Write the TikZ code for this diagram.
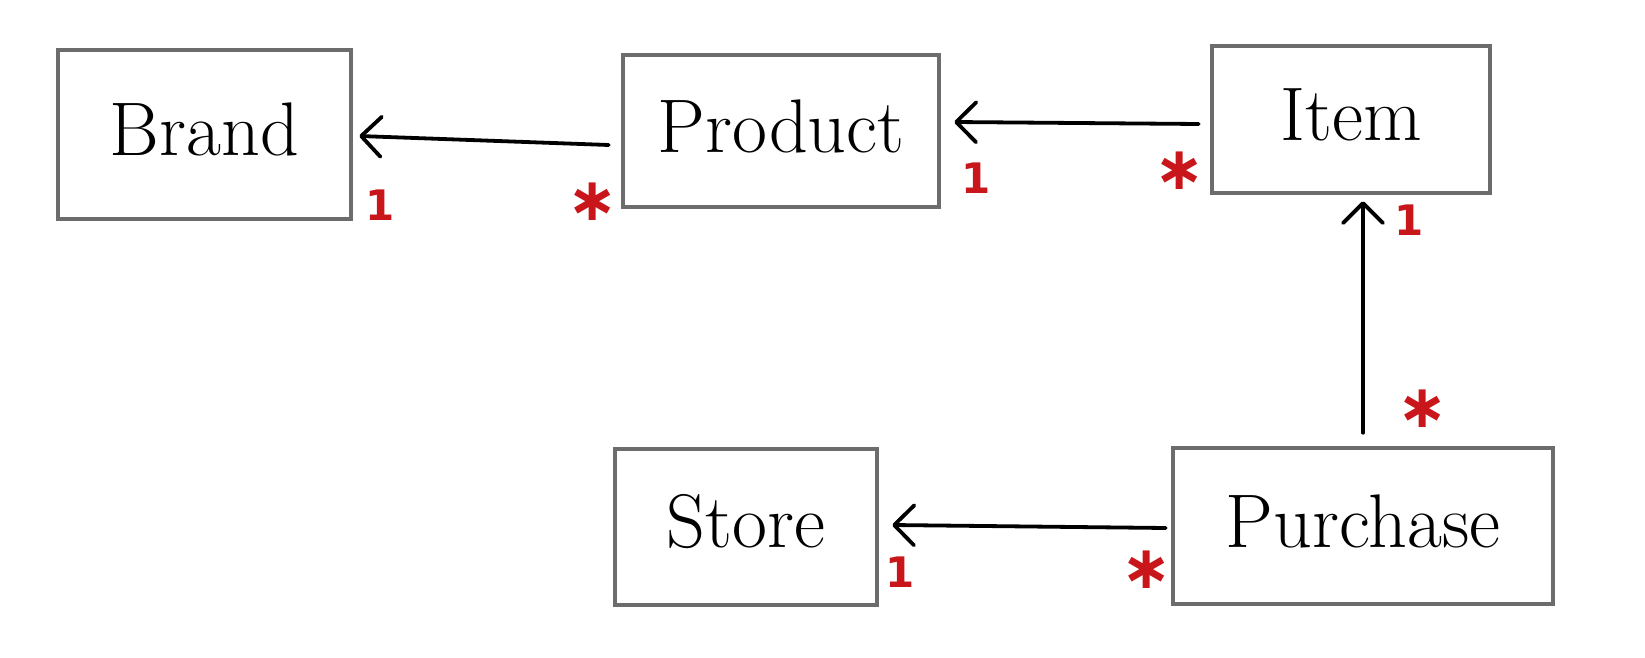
\documentclass[tikz,border=0pt]{standalone}
\usepackage{fontspec}
\newfontfamily\starfont{DejaVu Sans}
\usetikzlibrary{arrows.meta}
\definecolor{boxgray}{RGB}{108,108,108}
\definecolor{mred}{RGB}{200,22,26}
\newcommand{\boxtext}[1]{\raisebox{5pt}[\height][\depth]{#1}}
\begin{document}
\begin{tikzpicture}[x=1pt,y=-1pt,
  umlbox/.style={draw=boxgray, line width=4.5pt, inner sep=0pt, font=\fontsize{76}{86}\selectfont},
  conn/.style={line width=3.8pt, line cap=round, -{Straight Barb[length=20pt,width=40pt,round]}},
  one/.style={text=mred, font=\starfont\bfseries\fontsize{42}{46}\selectfont, inner sep=0pt},
  many/.style={text=mred, font=\starfont\bfseries\fontsize{60}{60}\selectfont, inner sep=0pt}]
\useasboundingbox (0,0) rectangle (1645,658);
\node[umlbox, minimum width=293pt, minimum height=169pt] (brand) at (204.5,134.5) {\boxtext{Brand}};
\node[umlbox, minimum width=316pt, minimum height=152pt] (product) at (781,131) {\boxtext{Product}};
\node[umlbox, minimum width=278pt, minimum height=147pt] (item) at (1351,119.5) {\boxtext{Item}};
\node[umlbox, minimum width=262pt, minimum height=156pt] (store) at (746,527) {\boxtext{Store}};
\node[umlbox, minimum width=380pt, minimum height=156pt] (purchase) at (1363,526) {\boxtext{Purchase}};
\draw[conn] ([xshift=-12pt,yshift=-14pt]product.west) -- ([xshift=6pt,yshift=-1.5pt]brand.east);
\draw[conn] ([xshift=-11pt,yshift=-4.5pt]item.west) -- ([xshift=13pt,yshift=9pt]product.east);
\draw[conn] ([xshift=0pt,yshift=13pt]purchase.north) -- ([xshift=12pt,yshift=-6pt]item.south);
\draw[conn] ([xshift=-5pt,yshift=-2pt]purchase.west) -- ([xshift=13pt,yshift=2pt]store.east);
\node[one] (m1) at (380,205) {1};
\node[many] (m2) at (593,202) {∗};
\node[one] (m3) at (976,178) {1};
\node[many] (m4) at (1180,171) {∗};
\node[one] (m5) at (1409,220) {1};
\node[many] (m6) at (1423,409) {∗};
\node[one] (m7) at (900,572) {1};
\node[many] (m8) at (1147,570) {∗};
\end{tikzpicture}
\end{document}
